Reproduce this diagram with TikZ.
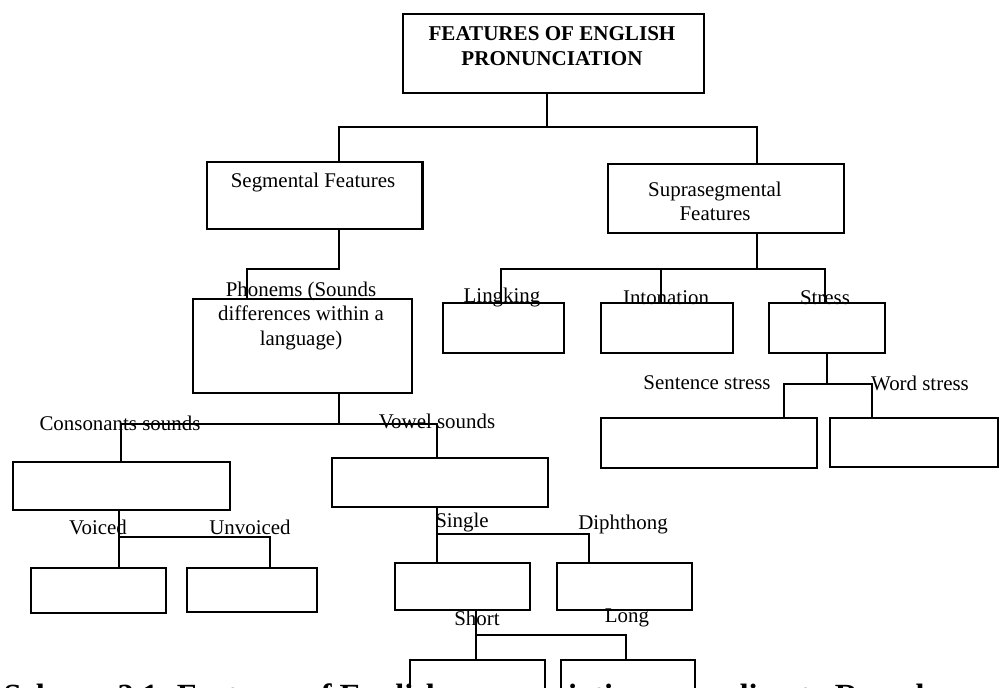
\documentclass[tikz,border=0pt]{standalone}
\usepackage{fontspec}
\setmainfont{Liberation Serif}

\begin{document}
\begin{tikzpicture}[
		x = 0.02cm, y = -0.02cm, % one unit per pixel, y going down
		line width = 0.6pt, % connector lines
		font = \fontsize{11.9}{13.8}\selectfont
		]
		
		\tikzstyle{box}=[
		draw = black,
		line width = 1.4pt,
		inner sep = 0pt,
		anchor = north west
		]
		\tikzstyle{lbl}=[
		inner sep = 0pt,
		align = center
		]
		
		\clip (0,0) rectangle (1000,688);
		
		% caption, cut by the page edge
		\node[lbl, anchor=base west, font=\bfseries\fontsize{18.4}{22}\selectfont] (caption) at (3,706) {Scheme 2.1. Features of English pronunciation according to Ramelan};
		
		\node[box, minimum width=6.02cm, minimum height=1.58cm] (title) at (402,13) {};
		\node[box, minimum width=4.31cm, minimum height=1.34cm] (seg_feat) at (206,161) {};
		\node[box, minimum width=4.72cm, minimum height=1.38cm] (supra_feat) at (607,163) {};
		\node[box, minimum width=4.38cm, minimum height=1.88cm] (phonem) at (192,298) {};
		\node[box, minimum width=2.42cm, minimum height=1.0cm] (link) at (442,302) {};
		\node[box, minimum width=2.64cm, minimum height=1.0cm] (inton) at (600,302) {};
		\node[box, minimum width=2.32cm, minimum height=1.0cm] (stress) at (768,302) {};
		\node[box, minimum width=4.32cm, minimum height=1.0cm] (sent_str) at (600,417) {};
		\node[box, minimum width=3.36cm, minimum height=0.98cm] (word_str) at (829,417) {};
		\node[box, minimum width=4.34cm, minimum height=0.96cm] (cons) at (12,461) {};
		\node[box, minimum width=4.32cm, minimum height=0.98cm] (vowel) at (331,457) {};
		\node[box, minimum width=2.7cm, minimum height=0.9cm] (voiced) at (30,567) {};
		\node[box, minimum width=2.6cm, minimum height=0.88cm] (unvoiced) at (186,567) {};
		\node[box, minimum width=2.7cm, minimum height=0.94cm] (single) at (394,562) {};
		\node[box, minimum width=2.7cm, minimum height=0.94cm] (diph) at (556,562) {};
		\node[box, minimum width=2.7cm, minimum height=0.94cm] (short_v) at (409,659) {};
		\node[box, minimum width=2.68cm, minimum height=0.94cm] (long_v) at (560,659) {};
		
		\node[lbl, font=\bfseries\fontsize{12}{14.2}\selectfont] (title_txt) at (552,46) {FEATURES OF ENGLISH\\PRONUNCIATION};
		\node[lbl] (seg_txt) at (313,183) {Segmental Features};
		\node[lbl] (supra_txt) at (715,201) {Suprasegmental\\Features};
		\node[lbl] (phonem_txt) at (301,316) {Phonems (Sounds\\differences within a\\language)};
		\node[lbl] (link_txt) at (502,298) {Lingking};
		\node[lbl] (inton_txt) at (666,298) {Intonation};
		\node[lbl] (stress_txt) at (825,298) {Stress};
		\node[lbl] (sent_txt) at (707,383) {Sentence stress};
		\node[lbl] (word_txt) at (920,383) {Word stress};
		\node[lbl] (cons_txt) at (120,423) {Consonants sounds};
		\node[lbl] (vowel_txt) at (437,421) {Vowel sounds};
		\node[lbl] (voiced_txt) at (98,527) {Voiced};
		\node[lbl] (unvoiced_txt) at (250,527) {Unvoiced};
		\node[lbl] (single_txt) at (462,523) {Single};
		\node[lbl] (diph_txt) at (623,525) {Diphthong};
		\node[lbl] (short_txt) at (477,618) {Short};
		\node[lbl] (long_txt) at (627,618) {Long};
		
		% joints of the tree
		\coordinate (j_top) at (547,127);
		\coordinate (j_seg) at (339,127);
		\coordinate (j_sup) at (757,127);
		\coordinate (j_sg1) at (339,269);
		\coordinate (j_sg2) at (247,269);
		\coordinate (j_sp) at (757,269);
		\coordinate (j_l) at (501,269);
		\coordinate (j_i) at (661,269);
		\coordinate (j_s) at (825,269);
		\coordinate (j_st) at (827,384);
		\coordinate (j_se) at (784,384);
		\coordinate (j_wo) at (872,384);
		\coordinate (j_ph) at (339,424);
		\coordinate (j_co) at (121,424);
		\coordinate (j_vo) at (437,424);
		\coordinate (j_cv) at (119,537);
		\coordinate (j_un) at (270,537);
		\coordinate (j_vs) at (437,534);
		\coordinate (j_di) at (589,534);
		\coordinate (j_sh) at (476,635);
		\coordinate (j_lo) at (626,635);
		
		\draw (title.south -| j_top) -- (j_top);
		\draw (seg_feat.north -| j_seg) -- (j_seg) -- (j_sup) -- (supra_feat.north -| j_sup);
		\draw (seg_feat.south -| j_sg1) -- (j_sg1) -- (j_sg2) -- (phonem.north -| j_sg2);
		\draw (supra_feat.south -| j_sp) -- (j_sp);
		\draw (link.north -| j_l) -- (j_l) -- (j_s) -- (stress.north -| j_s);
		\draw (j_i) -- (inton.north -| j_i);
		\draw (stress.south -| j_st) -- (j_st);
		\draw (sent_str.north -| j_se) -- (j_se) -- (j_wo) -- (word_str.north -| j_wo);
		\draw (phonem.south -| j_ph) -- (j_ph);
		\draw (cons.north -| j_co) -- (j_co) -- (j_vo) -- (vowel.north -| j_vo);
		\draw (cons.south -| j_cv) -- (voiced.north -| j_cv);
		\draw (j_cv) -- (j_un) -- (unvoiced.north -| j_un);
		\draw (vowel.south -| j_vs) -- (single.north -| j_vs);
		\draw (j_vs) -- (j_di) -- (diph.north -| j_di);
		\draw (single.south -| j_sh) -- (short_v.north -| j_sh);
		\draw (j_sh) -- (j_lo) -- (long_v.north -| j_lo);
		\end{tikzpicture}
\end{document}
